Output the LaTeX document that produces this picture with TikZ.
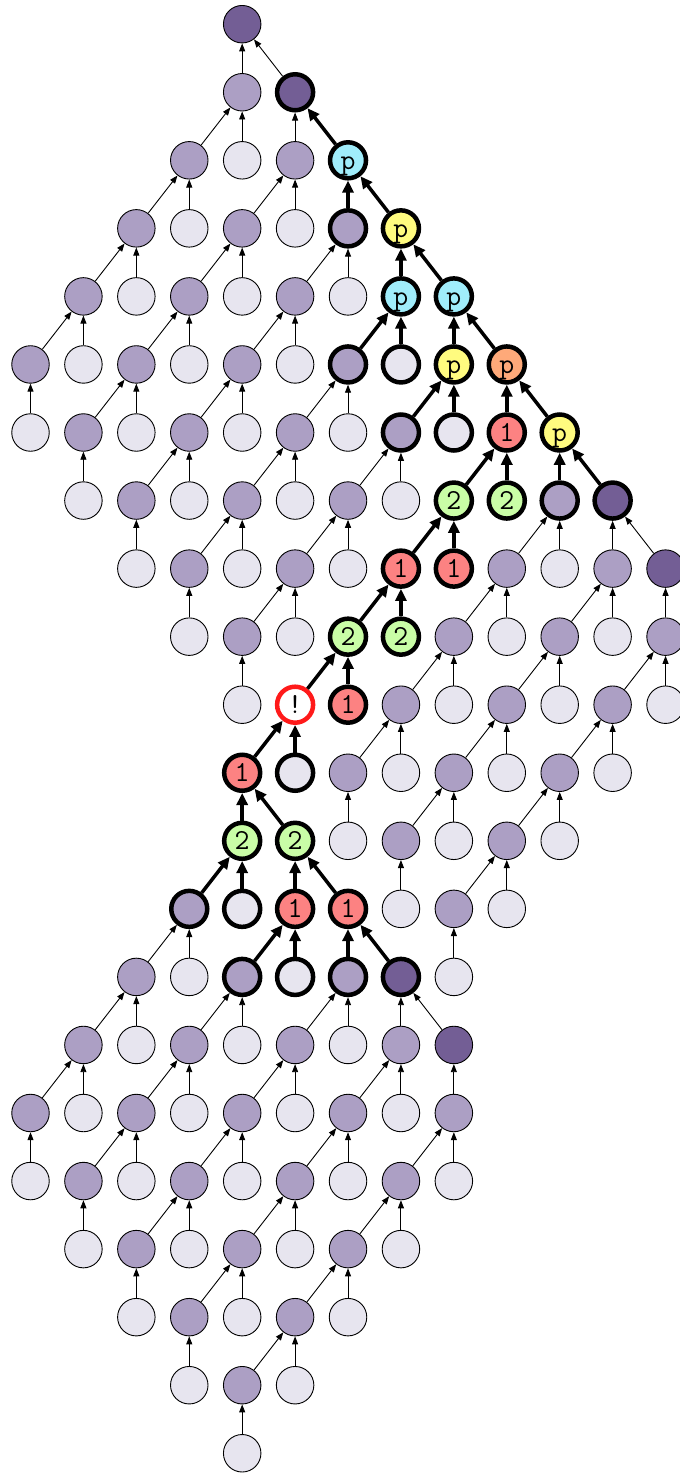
\documentclass[tikz,border=0pt]{standalone}
\usepackage{fontspec}
\usetikzlibrary{arrows.meta}
\definecolor{cLight}{HTML}{E7E5EF}
\definecolor{cPurple}{HTML}{AC9FC4}
\definecolor{cDark}{HTML}{735E95}
\definecolor{cCyan}{HTML}{A0EDFB}
\definecolor{cYellow}{HTML}{FFFB7F}
\definecolor{cOrange}{HTML}{FEA979}
\definecolor{cRed}{HTML}{FC8282}
\definecolor{cGreen}{HTML}{C9FDA6}
\definecolor{cBang}{HTML}{FF1A1A}
\begin{document}
\begin{tikzpicture}[x=1pt,y=1pt,
  nd/.style={circle, minimum size=37.5pt, inner sep=0pt, draw=black, line width=0.9pt,
    font=\ttfamily\fontsize{29}{29}\selectfont, text height=17.7pt, text depth=0pt},
  thk/.style={nd, line width=4.5pt, minimum size=36pt},
  lt/.style={nd, fill=cLight},
  pu/.style={nd, fill=cPurple},
  dk/.style={nd, fill=cDark},
  ltk/.style={thk, fill=cLight},
  putk/.style={thk, fill=cPurple},
  dktk/.style={thk, fill=cDark},
  cy/.style={thk, fill=cCyan},
  ye/.style={thk, fill=cYellow},
  orn/.style={thk, fill=cOrange},
  rd/.style={thk, fill=cRed},
  gr/.style={thk, fill=cGreen},
  bang/.style={thk, fill=white, draw=cBang},
  thinarr/.style={line width=0.9pt, -{Triangle[length=8pt,width=6pt]}},
  thickarr/.style={line width=3.5pt, -{Triangle[length=12pt,width=11pt]}}
]
\useasboundingbox (0,0) rectangle (680,-1473);
\def\px#1{30.5+52.92*#1}
\def\py#1{-24.2-68.05*#1}
% light thin
\foreach \r/\c in {2/4,3/3,3/5,4/2,4/4,4/6,5/1,5/3,5/5,6/0,6/2,6/4,6/6,7/1,7/3,7/5,7/7,
  8/2,8/4,8/6,8/10,9/3,9/5,9/9,9/11,10/4,10/8,10/10,10/12,11/7,11/9,11/11,12/6,12/8,12/10,
  13/7,13/9,14/3,14/8,15/2,15/4,15/6,16/1,16/3,16/5,16/7,17/0,17/2,17/4,17/6,17/8,
  18/1,18/3,18/5,18/7,19/2,19/4,19/6,20/3,20/5,21/4}
  \node[lt] (n\r-\c) at ({\px{\c}},{\py{\r}}) {};
% purple thin
\foreach \r/\c in {1/4,2/3,2/5,3/2,3/4,4/1,4/3,4/5,5/0,5/2,5/4,6/1,6/3,6/5,7/2,7/4,7/6,
  8/3,8/5,8/9,8/11,9/4,9/8,9/10,9/12,10/7,10/9,10/11,11/6,11/8,11/10,12/7,12/9,13/8,14/2,
  15/1,15/3,15/5,15/7,16/0,16/2,16/4,16/6,16/8,17/1,17/3,17/5,17/7,18/2,18/4,18/6,19/3,19/5,20/4}
  \node[pu] (n\r-\c) at ({\px{\c}},{\py{\r}}) {};
% dark thin
\foreach \r/\c in {0/4,8/12,15/8}
  \node[dk] (n\r-\c) at ({\px{\c}},{\py{\r}}) {};
% thick plain
\foreach \r/\c in {1/5,7/11,14/7}
  \node[dktk] (n\r-\c) at ({\px{\c}},{\py{\r}}) {};
\foreach \r/\c in {3/6,5/6,6/7,7/10,13/3,14/4,14/6}
  \node[putk] (n\r-\c) at ({\px{\c}},{\py{\r}}) {};
\foreach \r/\c in {5/7,6/8,11/5,13/4,14/5}
  \node[ltk] (n\r-\c) at ({\px{\c}},{\py{\r}}) {};
% labelled
\foreach \r/\c in {2/6,4/7,4/8}
  \node[cy] (n\r-\c) at ({\px{\c}},{\py{\r}}) {p};
\foreach \r/\c in {3/7,5/8,6/10}
  \node[ye] (n\r-\c) at ({\px{\c}},{\py{\r}}) {p};
\node[orn] (n5-9) at ({\px{9}},{\py{5}}) {p};
\foreach \r/\c in {6/9,8/7,8/8,10/6,11/4,13/5,13/6}
  \node[rd] (n\r-\c) at ({\px{\c}},{\py{\r}}) {1};
\foreach \r/\c in {7/8,7/9,9/6,9/7,12/4,12/5}
  \node[gr] (n\r-\c) at ({\px{\c}},{\py{\r}}) {2};
\node[bang] (n10-5) at ({\px{5}},{\py{10}}) {!};
% thin vertical edges
\foreach \r/\c in {0/4,1/4,1/5,2/3,2/5,3/2,3/4,3/6,4/1,4/3,4/5,5/0,5/2,5/4,5/6,6/1,6/3,6/5,6/7,
  7/2,7/4,7/6,7/10,7/11,8/3,8/5,8/9,8/11,8/12,9/4,9/8,9/10,9/12,10/7,10/9,10/11,11/6,11/8,11/10,
  12/7,12/9,13/3,13/8,14/2,14/4,14/6,14/7,15/1,15/3,15/5,15/7,15/8,16/0,16/2,16/4,16/6,16/8,
  17/1,17/3,17/5,17/7,18/2,18/4,18/6,19/3,19/5,20/4}{
  \pgfmathtruncatemacro\rr{\r+1}
  \draw[thinarr] (n\rr-\c) -- (n\r-\c);
}
% thin down-left children
\foreach \r/\c in {1/4,2/3,2/5,3/2,3/4,3/6,4/1,4/3,4/5,5/2,5/4,5/6,6/3,6/5,6/7,7/4,7/6,7/10,
  8/5,8/9,8/11,9/8,9/10,9/12,10/7,10/9,10/11,11/8,11/10,12/9,13/3,14/2,14/4,14/6,
  15/1,15/3,15/5,15/7,16/2,16/4,16/6,16/8,17/3,17/5,17/7,18/4,18/6,19/5}{
  \pgfmathtruncatemacro\rr{\r+1}
  \pgfmathtruncatemacro\cc{\c-1}
  \draw[thinarr] (n\rr-\cc) -- (n\r-\c);
}
% thin down-right children
\foreach \r/\c in {0/4,7/11,14/7}{
  \pgfmathtruncatemacro\rr{\r+1}
  \pgfmathtruncatemacro\cc{\c+1}
  \draw[thinarr] (n\rr-\cc) -- (n\r-\c);
}
% thick vertical
\foreach \r/\c in {2/6,3/7,4/7,4/8,5/8,5/9,6/9,6/10,7/8,8/7,9/6,10/5,11/4,12/4,12/5,13/5,13/6}{
  \pgfmathtruncatemacro\rr{\r+1}
  \draw[thickarr] (n\rr-\c) -- (n\r-\c);
}
% thick down-left
\foreach \r/\c in {4/7,5/8,6/9,7/8,8/7,9/6,10/5,12/4,13/5}{
  \pgfmathtruncatemacro\rr{\r+1}
  \pgfmathtruncatemacro\cc{\c-1}
  \draw[thickarr] (n\rr-\cc) -- (n\r-\c);
}
% thick down-right
\foreach \r/\c in {1/5,2/6,3/7,4/8,5/9,6/10,11/4,12/5,13/6}{
  \pgfmathtruncatemacro\rr{\r+1}
  \pgfmathtruncatemacro\cc{\c+1}
  \draw[thickarr] (n\rr-\cc) -- (n\r-\c);
}
\end{tikzpicture}
\end{document}
